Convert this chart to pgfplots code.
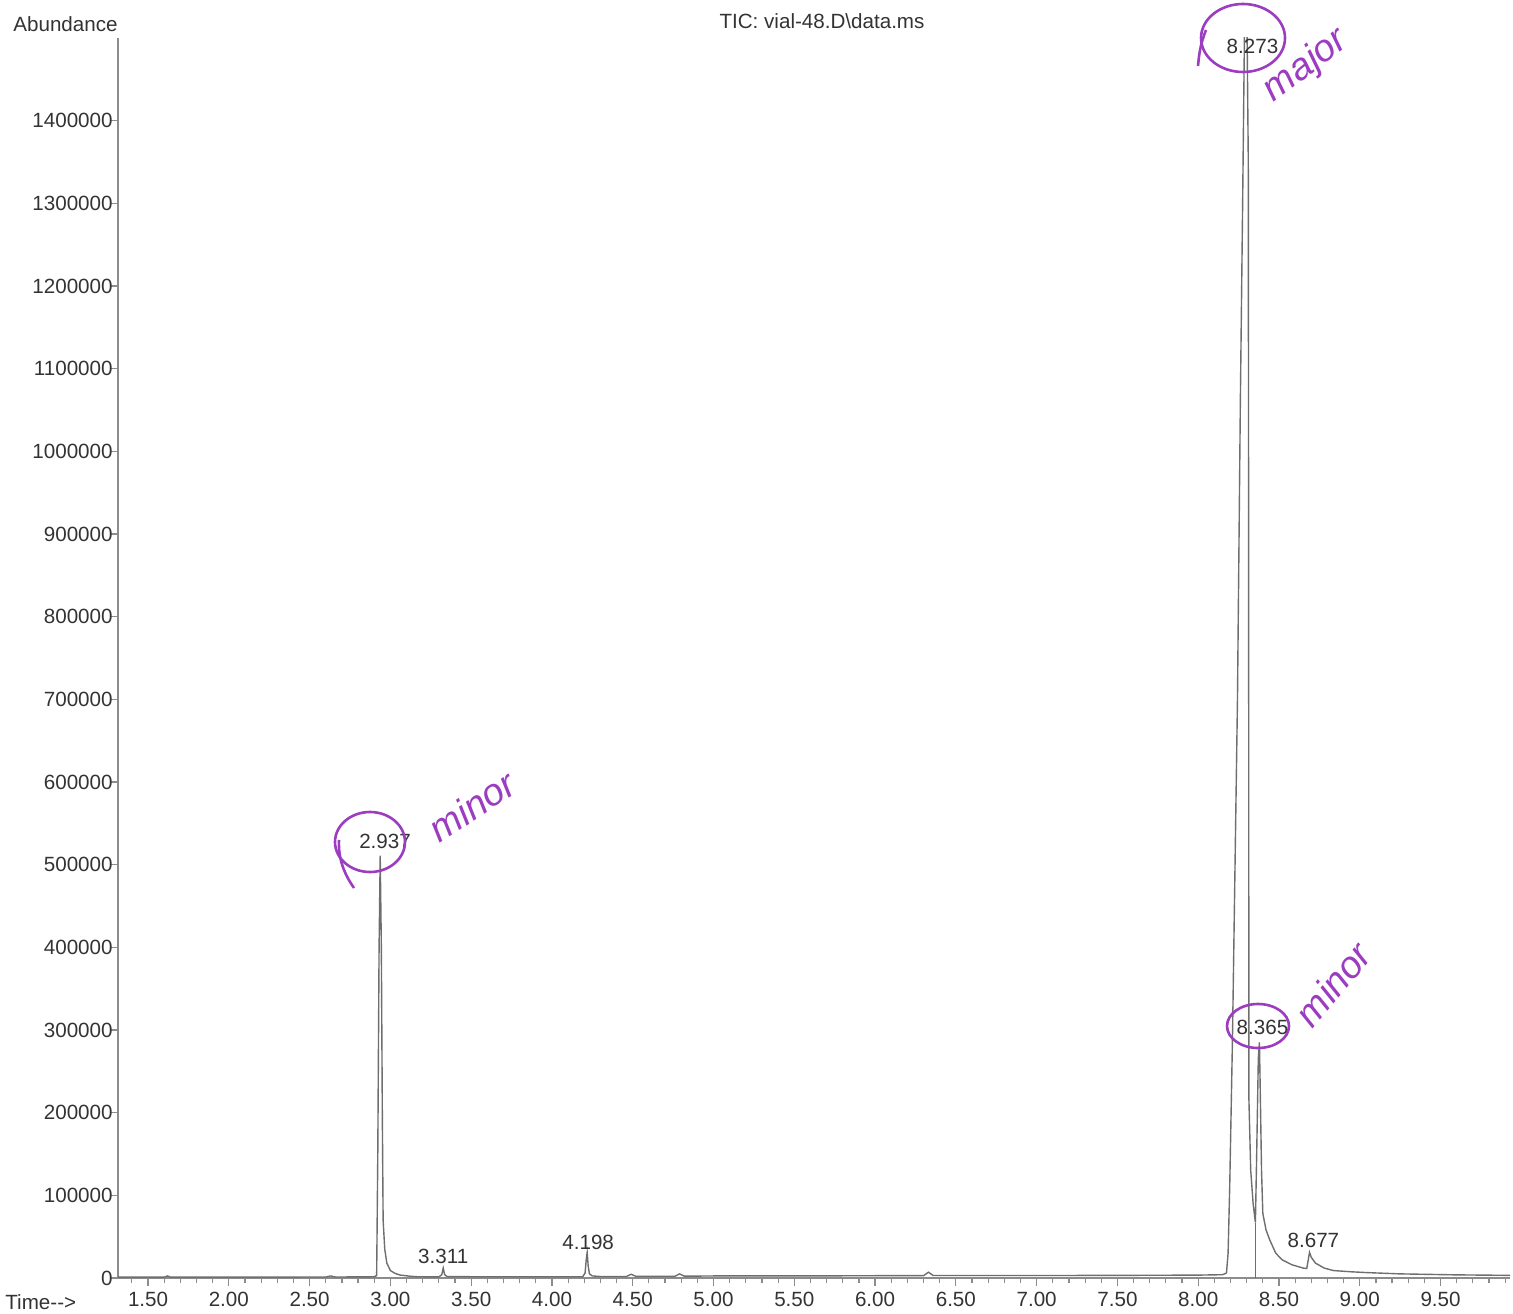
\documentclass[border=0pt]{standalone}
\usepackage{pgfplots}
\pgfplotsset{compat=1.18}
\usepackage{fontspec}
\setmainfont{Liberation Sans}

\definecolor{trace}{HTML}{6E6E6E}
\definecolor{axgray}{HTML}{8C8C8C}
\definecolor{txt}{HTML}{333333}
\definecolor{pen}{HTML}{9C3CC0}
\newcommand\lab{\fontsize{10.3}{12}\selectfont}
\newcommand\hand{\fontsize{19}{19}\selectfont\itshape}

\begin{document}
\begin{tikzpicture}
\begin{axis}[
    name=ax, at={(0,0)}, anchor=south west,
    scale only axis, width=696pt, height=620pt,
    xmin=1.314, xmax=9.93, ymin=0, ymax=1500000,
    axis x line=bottom, axis y line=left,
    axis line style={-, axgray, line width=0.9pt},
    xtick={1.5,2,2.5,3,3.5,4,4.5,5,5.5,6,6.5,7,7.5,8,8.5,9,9.5},
    minor xtick={1.4,1.6,1.7,1.8,1.9,2.1,2.2,2.3,2.4,2.6,2.7,2.8,2.9,
        3.1,3.2,3.3,3.4,3.6,3.7,3.8,3.9,4.1,4.2,4.3,4.4,4.6,4.7,4.8,4.9,
        5.1,5.2,5.3,5.4,5.6,5.7,5.8,5.9,6.1,6.2,6.3,6.4,6.6,6.7,6.8,6.9,
        7.1,7.2,7.3,7.4,7.6,7.7,7.8,7.9,8.1,8.2,8.3,8.4,8.6,8.7,8.8,8.9,
        9.1,9.2,9.3,9.4,9.6,9.7,9.8,9.9},
    ytick={0,100000,200000,300000,400000,500000,600000,700000,800000,
        900000,1000000,1100000,1200000,1300000,1400000},
    scaled y ticks=false,
    tick align=outside,
    major tick length=4pt, minor tick length=2.5pt,
    tick style={axgray, line width=0.6pt},
    /pgf/number format/assume math mode=true,
    xticklabel style={font=\lab, text=txt, inner sep=0pt, yshift=-3pt,
        /pgf/number format/.cd, fixed, fixed zerofill, precision=2},
    yticklabel style={font=\lab, text=txt, inner sep=0pt, xshift=1.5pt,
        /pgf/number format/.cd, fixed, 1000 sep={}},
    clip=true,
]
% total ion chromatogram
\addplot[trace, line width=0.7pt, no markers] coordinates {
    (1.314,1000) (1.60,1000) (1.62,2500) (1.64,1000) (2.60,1200) (2.63,2500) (2.66,1200)
    (2.900,1500) (2.915,3000) (2.922,150000) (2.930,400000) (2.937,511000)
    (2.944,400000) (2.950,200000) (2.955,70000) (2.965,35000) (2.978,18000)
    (3.000,9000) (3.030,5500) (3.060,3600) (3.120,2200) (3.170,1500) (3.300,1400)
    (3.318,4000) (3.327,12000) (3.336,4000) (3.350,1800) (3.400,1600)
    (4.190,1500) (4.205,6000) (4.212,22000) (4.218,31000) (4.224,15000)
    (4.232,5000) (4.250,2500) (4.300,1800)
    (4.460,1800) (4.490,4500) (4.520,2000)
    (4.760,2000) (4.790,5000) (4.820,2200)
    (5.000,2500) (5.500,2500) (6.000,2800) (6.300,2800) (6.330,7000) (6.360,3000)
    (7.000,3000) (7.500,3200) (8.000,3500) (8.150,4000)
    (8.175,6000) (8.185,30000) (8.195,110000) (8.212,288000) (8.243,699000)
    (8.261,1062000) (8.275,1300000) (8.286,1500000) (8.300,1560000)
    (8.310,1350000) (8.312,900000) (8.313,500000) (8.314,215000)
    (8.325,130000) (8.340,90000) (8.354,67000)
    (8.362,150000) (8.372,265000) (8.379,285000) (8.385,215000) (8.392,130000)
    (8.400,78000) (8.420,58000) (8.443,46000) (8.480,30000) (8.520,22000)
    (8.580,16000) (8.650,12000) (8.672,11500) (8.689,31000) (8.700,25000)
    (8.726,18000) (8.780,12000) (8.837,9000) (8.950,7500) (9.050,6500)
    (9.250,5000) (9.600,3800) (9.930,3200)
};
% drop line between the two overlapping peaks
\addplot[trace, line width=0.4pt, no markers] coordinates {(8.354,0) (8.354,67000)};

\node[anchor=base, font=\lab, text=txt, inner sep=0pt] at (axis cs:2.967,520000) {2.937};
\node[anchor=base, font=\lab, text=txt, inner sep=0pt] at (axis cs:3.327,18100) {3.311};
\node[anchor=base, font=\lab, text=txt, inner sep=0pt] at (axis cs:4.224,35000) {4.198};
\node[anchor=base, font=\lab, text=txt, inner sep=0pt] at (axis cs:8.336,1481000) {8.273};
\node[anchor=base, font=\lab, text=txt, inner sep=0pt] at (axis cs:8.398,295000) {8.365};
\node[anchor=base, font=\lab, text=txt, inner sep=0pt] at (axis cs:8.713,37500) {8.677};
\end{axis}

% page frame and handwritten marks in pixel units of the printout
\begin{scope}[shift={(ax.north west)}, xshift=-59pt, yshift=19pt, x=0.5pt, y=-0.5pt]
\node[anchor=base east, font=\lab, text=txt, inner sep=0pt] at (118,32) {Abundance};
\node[anchor=base, font=\lab, text=txt, inner sep=0pt] at (822,29) {TIC: vial-48.D\textbackslash data.ms};
\node[anchor=base west, font=\lab, text=txt, inner sep=0pt] at (5,1309) {Time-{}->};

\draw[pen, line width=1.3pt] (370,842) ellipse [x radius=35, y radius=30];
\draw[pen, line width=1.3pt] (339,840) .. controls (338,860) and (345,875) .. (354,888);
\node[pen, font=\hand, rotate=33] at (472,806) {minor};

\draw[pen, line width=1.3pt] (1243,38) ellipse [x radius=42, y radius=34];
\draw[pen, line width=1.3pt] (1206,30) .. controls (1200,45) and (1199,55) .. (1198,66);
\node[pen, font=\hand, rotate=37] at (1306,66) {major};

\draw[pen, line width=1.3pt] (1258,1026) ellipse [x radius=31, y radius=22];
\node[pen, font=\hand, rotate=50] at (1333,984) {minor};

\pgfresetboundingbox
\path[use as bounding box] (0,0) rectangle (1513,1313);
\end{scope}
\end{tikzpicture}
\end{document}
